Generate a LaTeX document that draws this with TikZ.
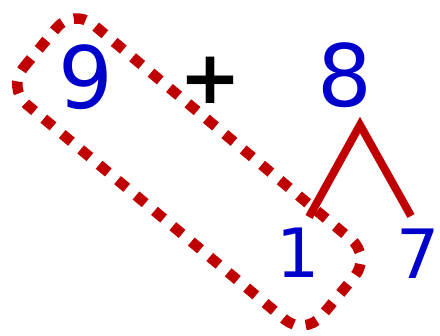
\documentclass[tikz,border=0pt]{standalone}
\usepackage{fontspec}
\setmainfont{DejaVu Sans}
\usetikzlibrary{calc}
\definecolor{dred}{RGB}{192,0,0}
\definecolor{dblue}{RGB}{0,0,204}
\begin{document}
\begin{tikzpicture}[x=1pt,y=1pt,
  big/.style={inner sep=0pt,text=dblue,font=\fontsize{86}{86}\selectfont},
  small/.style={inner sep=0pt,text=dblue,font=\fontsize{68}{68}\selectfont},
  opsign/.style={inner sep=0pt,text=black,font=\fontsize{74}{74}\selectfont\bfseries},
  branch/.style={draw=dred,line width=8pt},
  group/.style={draw=dred,line width=10.5pt,dash pattern=on 12pt off 12pt,rounded corners=26pt}]
\useasboundingbox (0,0) rectangle (440,336);
\node[big] (n9) at (86,259) {9};
\node[opsign] (plus) at (211,256) {+};
\node[big] (n8) at (345,261) {8};
\node[small] (n1) at (298,83) {1};
\node[small] (n7) at (418,82) {7};
\coordinate (apex) at (360,211);
\coordinate (lend) at (309,119);
\coordinate (rend) at (411,120);
\draw[branch] (lend) -- (apex) -- (rend);
\coordinate (grp) at (189,164);
\draw[group,rotate around={-39.8:(grp)}] ($(grp)+(-194,-52)$) rectangle ++(388,104);
\end{tikzpicture}
\end{document}
